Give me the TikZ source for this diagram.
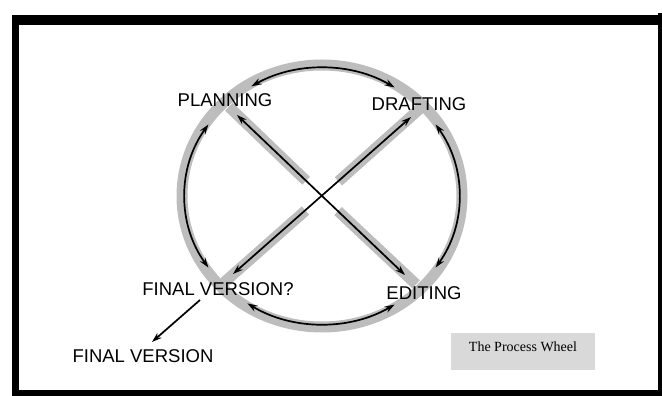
\documentclass[tikz,border=0pt]{standalone}
\usepackage{fontspec}
\setmainfont{Liberation Sans}
\newfontfamily\capfont{Liberation Serif}
\usetikzlibrary{arrows.meta,calc}
\definecolor{bandgray}{HTML}{BDBDBD}
\definecolor{boxgray}{HTML}{D9D9D9}
\tikzset{
  band/.style={draw=bandgray, line width=11pt, line cap=butt},
  link/.style={draw=black, line width=1.7pt, {Stealth[length=10pt,width=6.5pt]}-{Stealth[length=10pt,width=6.5pt]}},
  onelink/.style={draw=black, line width=1.7pt, -{Stealth[length=10pt,width=6.5pt]}},
  stage/.style={inner sep=0pt, font=\fontsize{18.5}{20}\selectfont},
  frameline/.style={fill=black, draw=none}
}
\begin{document}
\begin{tikzpicture}[x=1pt,y=1pt]
\useasboundingbox (0,0) rectangle (662,396);
% frame
\fill[frameline] (13,371) rectangle (662,381);
\fill[frameline] (12,0) rectangle (19,381);
\fill[frameline] (12,0) rectangle (662,6);
\fill[frameline] (658,0) rectangle (662,383);
% geometry
\coordinate (C) at (322,200);
\coordinate (X) at (322,200);
\coordinate (jP) at (225,293);
\coordinate (jD) at (424,291);
\coordinate (jF) at (220,110);
\coordinate (jE) at (420,108);
% gray wheel
\draw[band] (C) ellipse [x radius=140, y radius=131];
\draw[band] ($(X)!0.96!(jP)$) -- ($(X)!22pt!(jP)$);
\draw[band] ($(X)!0.96!(jD)$) -- ($(X)!22pt!(jD)$);
\draw[band] ($(X)!0.96!(jF)$) -- ($(X)!22pt!(jF)$);
\draw[band] ($(X)!0.96!(jE)$) -- ($(X)!22pt!(jE)$);
% spoke arrows
\coordinate (tP) at (237,281);
\coordinate (tD) at (411,279);
\coordinate (tF) at (233,122);
\coordinate (tE) at (405,121);
\draw[link] (tP) -- (tE);
\draw[link] (tD) -- (tF);
% arc arrows
\coordinate (aTop) at ({322+137*cos(121)},{200+128*sin(121)});
\coordinate (aLeft) at ({322+137*cos(146)},{200+128*sin(146)});
\coordinate (aBot) at ({322+137*cos(237)},{200+128*sin(237)});
\coordinate (aRight) at ({322+137*cos(-34)},{200+128*sin(-34)});
\draw[link] (aTop) arc[start angle=121, end angle=58, x radius=137, y radius=128];
\draw[link] (aLeft) arc[start angle=146, end angle=214, x radius=137, y radius=128];
\draw[link] (aBot) arc[start angle=237, end angle=302, x radius=137, y radius=128];
\draw[link] (aRight) arc[start angle=-34, end angle=34, x radius=137, y radius=128];
% labels
\node[stage] (plan) at (225,296) {PLANNING};
\node[stage] (draft) at (419,292) {DRAFTING};
\node[stage] (fvq) at (218,107) {FINAL VERSION?};
\node[stage] (edit) at (424,103) {EDITING};
\node[stage] (fv) at (143,40) {FINAL VERSION};
\coordinate (fs) at (200,96);
\coordinate (fe) at (152,54);
\draw[onelink] (fs) -- (fe);
% caption box
\fill[boxgray] (451,26) rectangle (595,63);
\node[inner sep=0pt, font=\capfont\fontsize{14}{16}\selectfont] (cap) at (523,49) {The Process Wheel};
\end{tikzpicture}
\end{document}
